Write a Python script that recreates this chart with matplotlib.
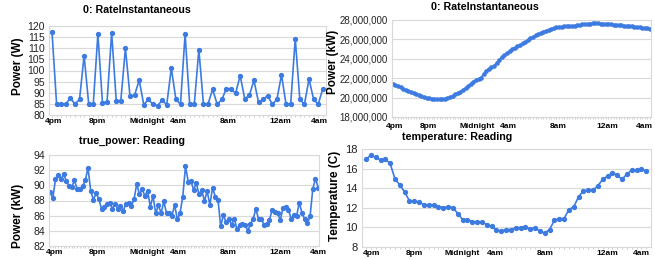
import matplotlib
matplotlib.use("Agg")
import matplotlib.pyplot as plt
from matplotlib.ticker import FuncFormatter

plt.rcParams['font.family'] = ['Liberation Sans', 'DejaVu Sans']

# tick labels shared by all four panels
time_labels = ["4pm", "8pm", "Midnight", "4am", "8am", "12am", "4am"]

# 0: RateInstantaneous (W)
rate_w = [117.5, 85, 85, 85, 87.5, 85, 87, 106.7, 85, 85,
          116.4, 85.5, 86, 117, 86.5, 86.5, 110, 88.4, 89, 95.6,
          84.6, 87, 84.8, 84.2, 86.6, 84.6, 101, 87, 84.8, 116.4,
          84.8, 84.8, 109.4, 84.8, 85, 91.5, 84.8, 87, 91.8, 91.8,
          89.7, 97.7, 87.3, 88.8, 95.6, 85.7, 87, 88.7, 84.8, 87,
          98, 84.8, 84.8, 114.3, 87, 84.8, 96.2, 87, 84.8, 91.8]

# 0: RateInstantaneous (kW), millions
rate_kw = [21.45, 21.32, 21.18, 21.05, 20.92, 20.80, 20.68, 20.55, 20.43, 20.33,
           20.22, 20.12, 20.04, 19.98, 19.93, 19.90, 19.88, 19.86, 19.85, 19.86,
           19.90, 19.95, 20.05, 20.18, 20.32, 20.48, 20.62, 20.80, 20.98, 21.18,
           21.42, 21.65, 21.80, 21.92, 22.05, 22.45, 22.78, 22.98, 23.12, 23.30,
           23.60, 23.92, 24.15, 24.35, 24.55, 24.85, 25.02, 25.15, 25.28, 25.42,
           25.58, 25.75, 25.92, 26.10, 26.28, 26.42, 26.55, 26.68, 26.80, 26.90,
           27.00, 27.08, 27.16, 27.23, 27.28, 27.32, 27.34, 27.36, 27.38, 27.40,
           27.43, 27.47, 27.50, 27.54, 27.58, 27.61, 27.63, 27.65, 27.65, 27.64,
           27.63, 27.62, 27.60, 27.58, 27.56, 27.53, 27.50, 27.47, 27.45, 27.43,
           27.41, 27.38, 27.35, 27.32, 27.29, 27.25, 27.21, 27.17, 27.13, 27.10]

# true_power: Reading (kW)
true_power = [89.17, 88.3, 90.8, 91.3, 90.8, 91.45, 90.6, 89.9, 89.8, 90.65,
              89.5, 89.5, 89.9, 90.65, 92.3, 89.25, 88.1, 88.95, 88.2, 86.9,
              87.2, 87.6, 87.7, 86.9, 87.6, 86.9, 87.25, 86.6, 87.6, 87.7,
              87.3, 88.15, 90.2, 88.8, 89.5, 88.6, 89.3, 87.2, 88.6, 86.3,
              87.4, 86.3, 87.9, 86.3, 86.4, 86.0, 87.4, 85.5, 86.4, 88.5,
              92.5, 90.5, 90.6, 89.4, 90.3, 88.8, 89.4, 87.9, 89.25, 87.4,
              89.7, 88.5, 88.1, 84.6, 86.1, 85.1, 85.6, 84.8, 85.6, 84.25,
              84.8, 84.9, 84.8, 84.0, 84.9, 85.6, 86.9, 85.5, 85.55, 84.8,
              84.9, 85.4, 86.8, 86.45, 86.35, 85.4, 87.0, 87.2, 86.8, 85.6,
              86.1, 85.9, 87.7, 86.4, 85.5, 85.0, 85.9, 89.5, 90.9, 89.7]

# temperature: Reading (C)
temperature = [16.94, 17.39, 17.15, 16.87, 16.94, 16.53, 14.93, 14.35, 13.6, 12.71,
               12.71, 12.57, 12.33, 12.27, 12.27, 12.13, 12.03, 12.1, 12.03, 11.41,
               10.8, 10.8, 10.6, 10.53, 10.53, 10.29, 10.1, 9.71, 9.64, 9.78,
               9.78, 9.98, 9.98, 10.05, 9.84, 9.98, 9.6, 9.43, 9.78, 10.73,
               10.9, 10.9, 11.82, 12.1, 13.12, 13.73, 13.8, 13.8, 14.25, 14.9,
               15.24, 15.58, 15.34, 14.9, 15.44, 15.85, 15.85, 15.95, 15.75]

W, H = 655, 260
BLUE = "#3d7be0"
GRID = "#d9d9d9"

fig = plt.figure(figsize=(W / 100, H / 100), dpi=100)


def px_axes(x0, y0, x1, y1):
    # pixel box -> figure axes
    return fig.add_axes([x0 / W, 1 - y1 / H, (x1 - x0) / W, (y1 - y0) / H])


def style(ax, values, ticks, xlim, ylim, yticks, ysize=7.5, ms=2.8):
    idx = list(range(len(values)))
    ax.plot(idx, values, color=BLUE, lw=1.2, marker="o", ms=ms, mec=BLUE, mfc=BLUE)
    ax.set_xlim(*xlim)
    ax.set_ylim(*ylim)
    ax.set_yticks(yticks)
    ax.set_xticks(ticks)
    ax.set_xticklabels(time_labels, fontsize=6, fontweight="bold")
    ax.set_xticks(idx, minor=True)
    ax.tick_params(axis="x", which="major", length=0, pad=2.5)
    ax.tick_params(axis="x", which="minor", length=1.5, color="#bbbbbb", width=0.5)
    ax.tick_params(axis="y", length=0, pad=3, labelsize=ysize, colors="#222222")
    ax.grid(axis="y", color=GRID, lw=0.8)
    ax.set_axisbelow(True)
    for s in ax.spines.values():
        s.set_color(GRID)
        s.set_linewidth(0.8)


ax1 = px_axes(49, 26, 326, 115)
style(ax1, rate_w, [0.4, 9.8, 20.7, 27.5, 38.3, 49.7, 58.2], (-0.65, 59.7), (80, 120),
      list(range(80, 121, 5)))

ax2 = px_axes(392, 20, 651, 117)
style(ax2, rate_kw, [0.6, 13.8, 32.6, 44.5, 63.7, 82.5, 96.7], (-0.3, 99.4), (18, 28),
      list(range(18, 29, 2)), ysize=7, ms=2.3)
ax2.yaxis.set_major_formatter(FuncFormatter(lambda v, p: f"{int(v * 1e6):,}"))
ax2.tick_params(axis="x", which="major", pad=4)

ax3 = px_axes(49, 155, 319, 246)
style(ax3, true_power, [1.5, 17.3, 35.8, 47.2, 65.7, 84.9, 99], (-0.4, 99.3), (82, 94),
      list(range(82, 95, 2)))

ax4 = px_axes(362, 149, 651, 247)
style(ax4, temperature, [1.2, 10.1, 19.9, 26.7, 37, 49.9, 57.1], (-0.83, 59.0), (8, 18),
      list(range(8, 19, 2)), ysize=8)

titles = [("0: RateInstantaneous", 137, 10), ("0: RateInstantaneous", 485, 7),
          ("true_power: Reading", 132, 141), ("temperature: Reading", 457, 137)]
for t, x, y in titles:
    fig.text(x / W, 1 - y / H, t, ha="center", va="center", fontsize=7.7, fontweight="bold")

ylabels = [("Power (W)", 18, 66), ("Power (kW)", 333, 62),
           ("Power (kW)", 18, 216), ("Temperature (C)", 335, 196)]
for t, x, y in ylabels:
    fig.text(x / W, 1 - y / H, t, ha="center", va="center", rotation=90,
             fontsize=8.5, fontweight="bold")

fig.savefig("out.png", dpi=100)
